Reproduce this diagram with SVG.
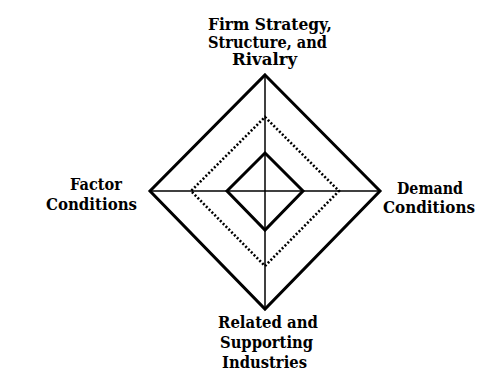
<svg xmlns="http://www.w3.org/2000/svg" width="496" height="372" viewBox="0 0 496 372">
  <style>
    .lbl { font-family: "DejaVu Serif", "Liberation Serif", serif; font-weight: bold; font-size: 16.5px; fill: #000; text-anchor: middle; }
    .axis { stroke: #000; stroke-width: 1.5; fill: none; }
    .solid { stroke: #000; stroke-width: 3; fill: none; stroke-linejoin: miter; }
    .dotted { stroke: #000; stroke-width: 2.6; fill: none; stroke-dasharray: 2 2; }
  </style>
  <rect width="496" height="372" fill="#fff"/>

  <!-- diamond frames and cross axes -->
  <g id="connectors">
    <line class="axis" x1="265" y1="75" x2="265" y2="309"/>
    <line class="axis" x1="150" y1="191" x2="380" y2="191"/>
    <polygon class="solid" points="265,75 380,191 265,309 150,191"/>
    <polygon class="dotted" points="265,117 339,191 265,266 191,191"/>
    <polygon class="solid" points="265,153 303,191 265,230 227,191"/>
  </g>

  <g id="firm-strategy">
    <text class="lbl" x="270" y="30" textLength="124" lengthAdjust="spacingAndGlyphs">Firm Strategy,</text>
    <text class="lbl" x="267.5" y="47.5" textLength="119" lengthAdjust="spacingAndGlyphs">Structure, and</text>
    <text class="lbl" x="264.5" y="65" textLength="65" lengthAdjust="spacingAndGlyphs">Rivalry</text>
  </g>

  <g id="factor-conditions">
    <text class="lbl" x="96" y="190" textLength="52" lengthAdjust="spacingAndGlyphs">Factor</text>
    <text class="lbl" x="91.5" y="210" textLength="91" lengthAdjust="spacingAndGlyphs">Conditions</text>
  </g>

  <g id="demand-conditions">
    <text class="lbl" x="430" y="193.5" textLength="66" lengthAdjust="spacingAndGlyphs">Demand</text>
    <text class="lbl" x="429" y="212.5" textLength="92" lengthAdjust="spacingAndGlyphs">Conditions</text>
  </g>

  <g id="related-supporting">
    <text class="lbl" x="268" y="327.5" textLength="100" lengthAdjust="spacingAndGlyphs">Related and</text>
    <text class="lbl" x="266.5" y="348" textLength="93" lengthAdjust="spacingAndGlyphs">Supporting</text>
    <text class="lbl" x="264.5" y="368" textLength="85" lengthAdjust="spacingAndGlyphs">Industries</text>
  </g>
</svg>
